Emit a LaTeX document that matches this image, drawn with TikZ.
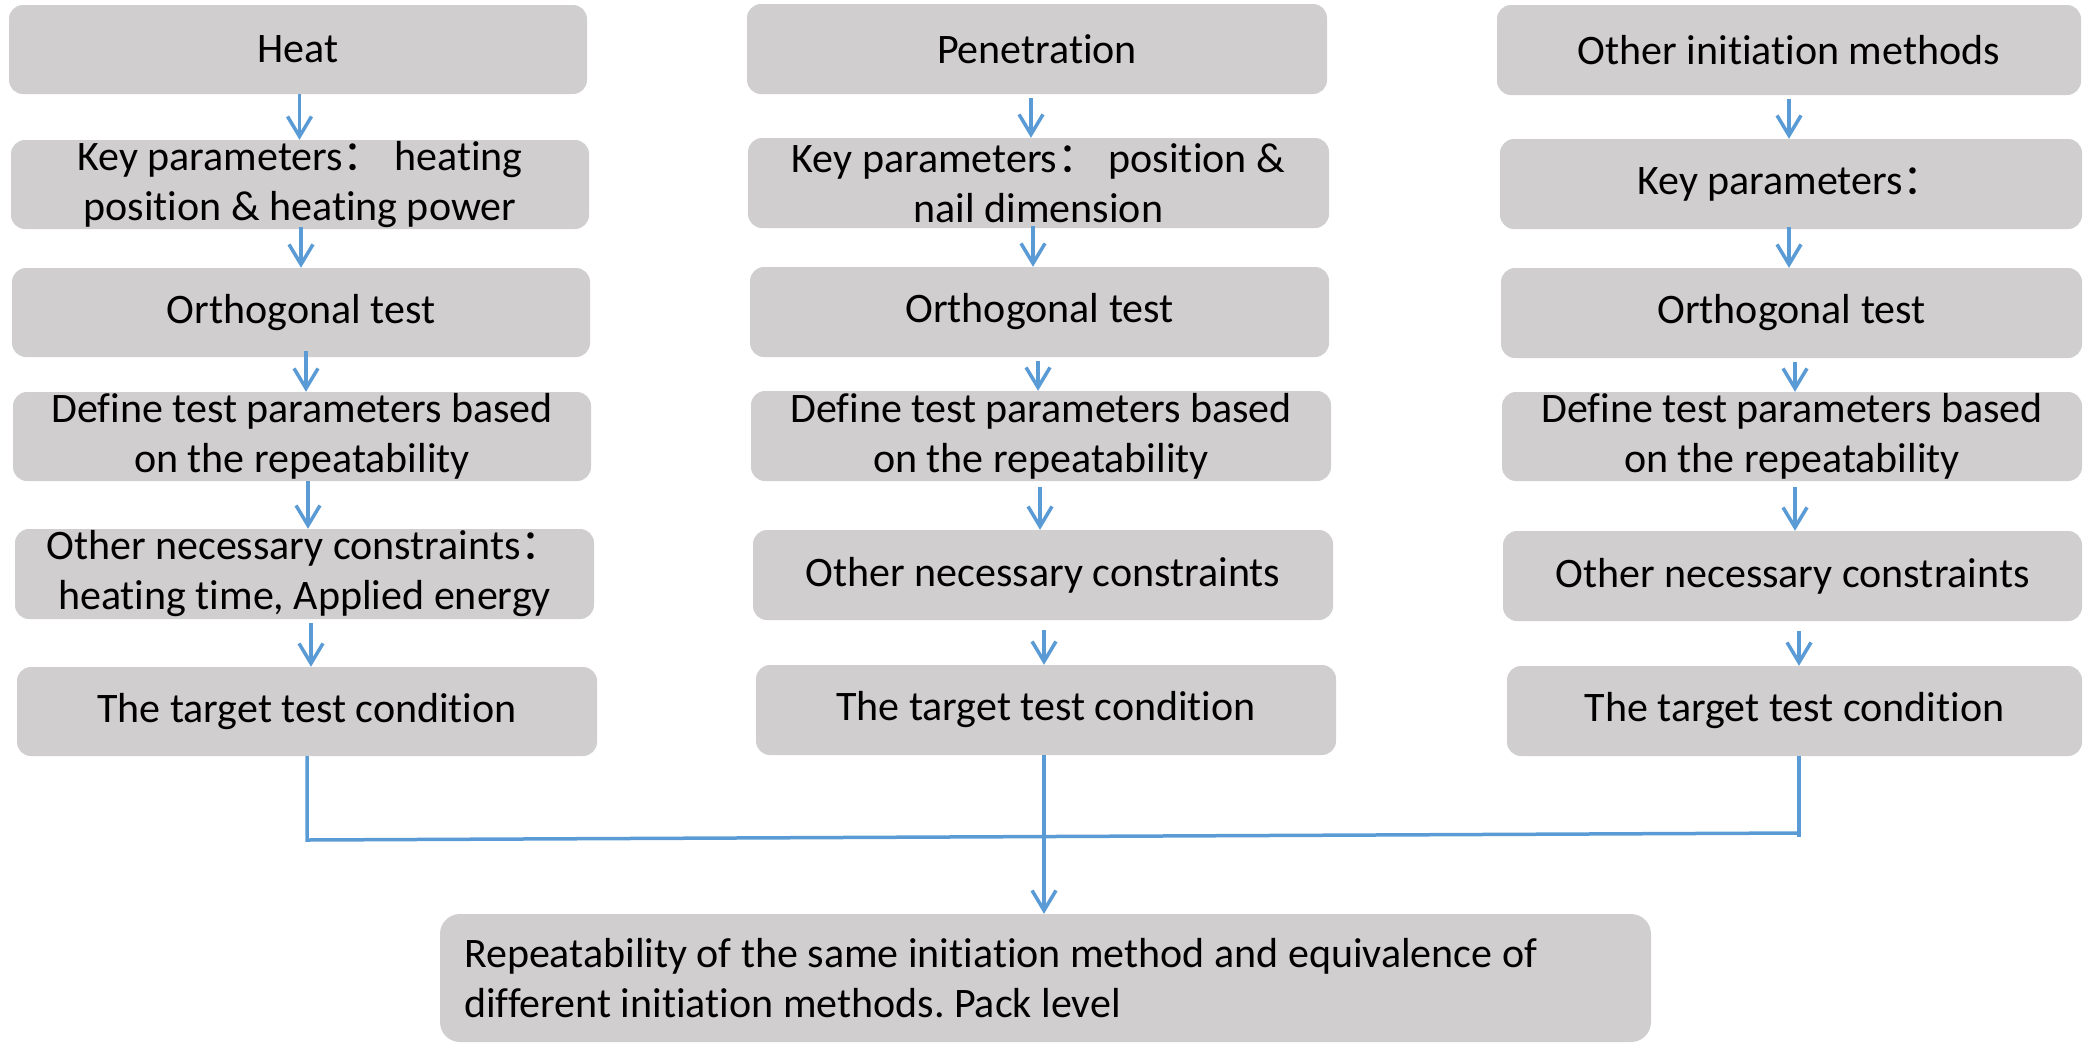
\documentclass[tikz,border=0pt]{standalone}
\usepackage{fontspec}
\setmainfont{Carlito}[Ligatures=NoCommon]
\newfontfamily\cjk{Noto Sans CJK SC}
\usetikzlibrary{arrows.meta}
\definecolor{boxgray}{HTML}{D0CECE}
\definecolor{linkblue}{HTML}{5B9BD5}
\newcommand{\fwcolon}{{\cjk ：}}
\frenchspacing
\begin{document}
\begin{tikzpicture}[x=1pt,y=-1pt,
  box/.style={fill=boxgray, rounded corners=14pt, minimum height=89pt, inner sep=0pt,
    align=center, font=\fontsize{42}{50}\selectfont},
  bigbox/.style={fill=boxgray, rounded corners=20pt, minimum height=128pt, inner xsep=24pt,
    inner ysep=0pt, align=flush left, text width=1163pt, font=\fontsize{42}{50}\selectfont},
  link/.style={draw=linkblue, line width=3.5pt},
  arr/.style={link, -{Straight Barb[length=20pt,width=24pt]}}]
\useasboundingbox (0,0) rectangle (2084,1042);
% column 1
\node[box, minimum width=578pt] (h1) at (298,49.5) {Heat};
\node[box, minimum width=578pt] (h2) at (300,184.5) {Key parameters\fwcolon{} heating\\position \& heating power};
\node[box, minimum width=578pt] (h3) at (301,312.5) {Orthogonal test};
\node[box, minimum width=578pt] (h4) at (302,436.5) {Define test parameters based\\on the repeatability};
\node[box, minimum width=579pt, minimum height=90pt] (h5) at (304.5,574) {Other necessary constraints\fwcolon\\ heating time, Applied energy};
\node[box, minimum width=580pt] (h6) at (307,711.5) {The target test condition};
% column 2
\node[box, minimum width=580pt, minimum height=90pt] (p1) at (1037,49) {Penetration};
\node[box, minimum width=581pt, minimum height=90pt] (p2) at (1038.5,183) {Key parameters\fwcolon{} position \&\\nail dimension};
\node[box, minimum width=579pt, minimum height=90pt] (p3) at (1039.5,312) {Orthogonal test};
\node[box, minimum width=580pt, minimum height=90pt] (p4) at (1041,436) {Define test parameters based\\on the repeatability};
\node[box, minimum width=580pt, minimum height=90pt] (p5) at (1043,575) {Other necessary constraints};
\node[box, minimum width=580pt, minimum height=90pt] (p6) at (1046,710) {The target test condition};
% column 3
\node[box, minimum width=584pt, minimum height=90pt] (o1) at (1789,50) {Other initiation methods};
\node[box, minimum width=582pt, minimum height=90pt] (o2) at (1791,184) {Key parameters\fwcolon};
\node[box, minimum width=581pt, minimum height=90pt] (o3) at (1791.5,313) {Orthogonal test};
\node[box, minimum width=580pt] (o4) at (1792,436.5) {Define test parameters based\\on the repeatability};
\node[box, minimum width=579pt, minimum height=90pt] (o5) at (1792.5,576) {Other necessary constraints};
\node[box, minimum width=575pt, minimum height=90pt] (o6) at (1794.5,711) {The target test condition};
% bottom
\node[bigbox, minimum width=1211pt] (b) at (1045.5,978) {Repeatability of the same initiation method and equivalence of\\different initiation methods. Pack level};
% arrows column 1
\draw[arr] ([xshift=1.5pt]h1.south) -- ([xshift=1.5pt]h1.south |- h2.north);
\draw[arr] ([xshift=1pt,yshift=2pt]h2.south) -- ([xshift=1pt]h2.south |- h3.north);
\draw[arr] ([xshift=5pt,yshift=6pt]h3.south) -- ([xshift=5pt]h3.south |- h4.north);
\draw[arr] ([xshift=6pt]h4.south) -- ([xshift=6pt]h4.south |- h5.north);
\draw[arr] ([xshift=6.5pt,yshift=-4pt]h5.south) -- ([xshift=6.5pt]h5.south |- h6.north);
% arrows column 2
\draw[arr] ([xshift=-6pt,yshift=-4pt]p1.south) -- ([xshift=-6pt]p1.south |- p2.north);
\draw[arr] ([xshift=-5.5pt,yshift=2pt]p2.south) -- ([xshift=-5.5pt]p2.south |- p3.north);
\draw[arr] ([xshift=-1.5pt,yshift=-4pt]p3.south) -- ([xshift=-1.5pt]p3.south |- p4.north);
\draw[arr] ([xshift=-1pt,yshift=-6pt]p4.south) -- ([xshift=-1pt]p4.south |- p5.north);
\draw[arr] ([xshift=1pt,yshift=-10pt]p5.south) -- ([xshift=1pt]p5.south |- p6.north);
% arrows column 3
\draw[arr] ([yshift=-4pt]o1.south) -- (o1.south |- o2.north);
\draw[arr] ([xshift=-2pt,yshift=2pt]o2.south) -- ([xshift=-2pt]o2.south |- o3.north);
\draw[arr] ([xshift=3.5pt,yshift=-4pt]o3.south) -- ([xshift=3.5pt]o3.south |- o4.north);
\draw[arr] ([xshift=3pt,yshift=-6pt]o4.south) -- ([xshift=3pt]o4.south |- o5.north);
\draw[arr] ([xshift=6.5pt,yshift=-10pt]o5.south) -- ([xshift=6.5pt]o5.south |- o6.north);
% merge connector
\coordinate (jl) at (307,840);
\coordinate (jr) at (1799,833);
\draw[link] (h6.south) -- (jl) -- (jr);
\draw[link] (jr |- o6.south) -- ([yshift=-4pt]jr);
\draw[arr] ([xshift=-2pt]p6.south) -- ([xshift=-2pt]p6.south |- b.north);
\end{tikzpicture}
\end{document}
